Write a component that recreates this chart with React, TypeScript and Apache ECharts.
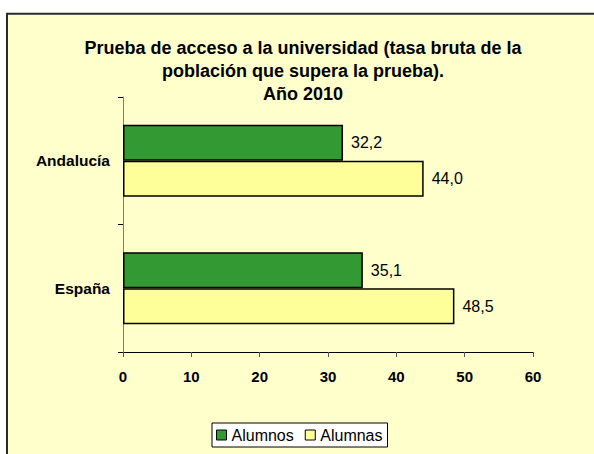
import React, { useEffect, useRef } from "react";
import * as echarts from "echarts";

const categories = ["Andalucía", "España"];
const alumnos = [32.2, 35.1];
const alumnas = [44.0, 48.5];
const seriesNames = ["Alumnos", "Alumnas"];
const titleText = "Prueba de acceso a la universidad (tasa bruta de la\npoblación que supera la prueba).\nAño 2010";

const FONT = "'Liberation Sans', Arial, sans-serif";
const fmt = (v: number) => v.toFixed(1).replace(".", ",");

export default function App() {
  const ref = useRef<HTMLDivElement>(null);
  useEffect(() => {
    if (!ref.current) return;
    const chart = echarts.init(ref.current, null, { renderer: "svg" });
    const label = {
      show: true,
      position: "right",
      distance: 8,
      fontSize: 16,
      fontFamily: FONT,
      color: "#000",
      formatter: (p: any) => fmt(p.value),
    };
    chart.setOption({
      animation: false,
      backgroundColor: "#ffffff",
      textStyle: { fontFamily: FONT },
      graphic: [
        {
          type: "rect",
          z: -10,
          silent: true,
          shape: { x: 7, y: 13.7, width: 620, height: 470 },
          style: { fill: "#FFFFCC", stroke: "#2a2a2a", lineWidth: 2 },
        },
      ],
      title: {
        text: titleText,
        left: 303,
        top: 36,
        padding: 0,
        textAlign: "center",
        textStyle: {
          fontSize: 18,
          fontWeight: "bold",
          lineHeight: 23,
          color: "#000",
          fontFamily: FONT,
        },
      },
      legend: {
        data: seriesNames,
        left: 212,
        top: 423,
        padding: [4, 5, 4, 4],
        backgroundColor: "#ffffff",
        borderColor: "#000",
        borderWidth: 1,
        itemWidth: 10,
        itemHeight: 10,
        itemGap: 11,
        icon: "rect",
        itemStyle: { borderColor: "#000", borderWidth: 1 },
        textStyle: { fontSize: 16, color: "#000", fontFamily: FONT },
      },
      grid: { left: 123, top: 97, right: 61, bottom: 102, containLabel: false },
      xAxis: {
        type: "value",
        min: 0,
        max: 60,
        interval: 10,
        splitLine: { show: false },
        axisLine: { show: true, lineStyle: { color: "#000", width: 1 } },
        axisTick: { show: true, length: 5, lineStyle: { color: "#555" } },
        axisLabel: {
          fontSize: 15,
          fontWeight: "bold",
          color: "#000",
          margin: 17,
          fontFamily: FONT,
        },
      },
      yAxis: {
        type: "category",
        inverse: true,
        data: categories,
        axisLine: { show: true, lineStyle: { color: "#808070", width: 1 } },
        axisTick: { show: true, length: 5, alignWithLabel: false, lineStyle: { color: "#000" } },
        axisLabel: {
          fontSize: 15.5,
          fontWeight: "bold",
          color: "#000",
          margin: 13,
          fontFamily: FONT,
        },
      },
      series: [
        {
          name: seriesNames[0],
          type: "bar",
          data: alumnos,
          barWidth: 36,
          barGap: "0%",
          itemStyle: { color: "#339933", borderColor: "#000", borderWidth: 1.5 },
          label,
        },
        {
          name: seriesNames[1],
          type: "bar",
          data: alumnas,
          barWidth: 36,
          barGap: "0%",
          itemStyle: { color: "#FFFF99", borderColor: "#000", borderWidth: 1.5 },
          label,
        },
      ],
    });
    return () => chart.dispose();
  }, []);
  return (
    <div
      ref={ref}
      style={{ position: "fixed", left: 0, top: 0, width: 594, height: 454 }}
    />
  );
}
